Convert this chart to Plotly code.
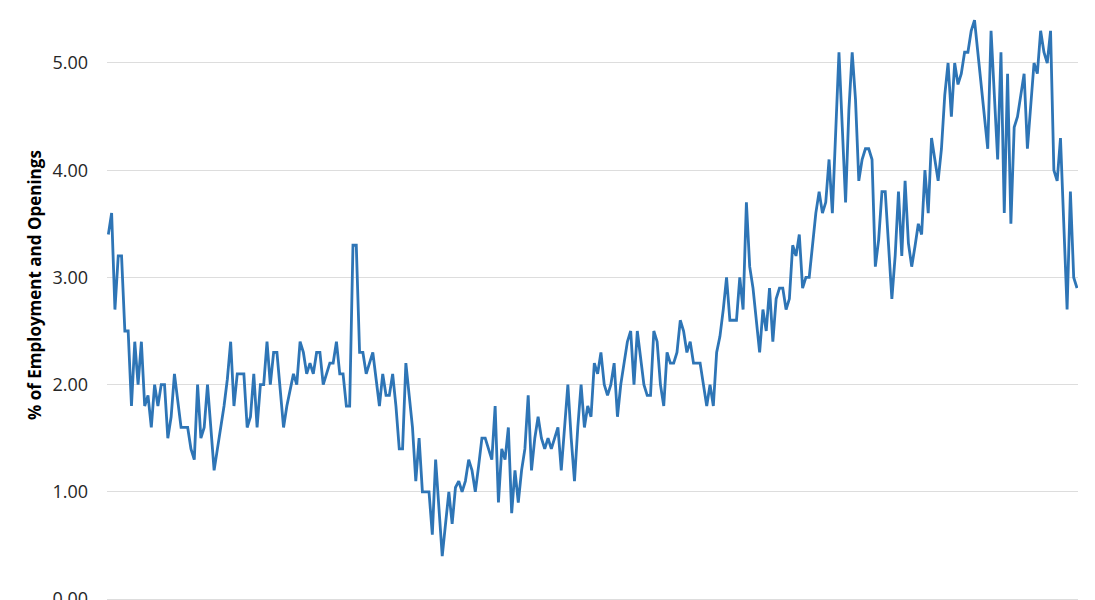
import plotly.graph_objects as go

# Monthly series (% of Employment and Openings)
seg_a = [3.4, 3.6, 2.7, 3.2, 3.2, 2.5, 2.5, 1.8, 2.4, 2.0,
         2.4, 1.8, 1.9, 1.6, 2.0, 1.8, 2.0, 2.0, 1.5, 1.7,
         2.1, 1.85, 1.6, 1.6, 1.6, 1.4, 1.3, 2.0, 1.5, 1.6,
         2.0, 1.6, 1.2, 1.4, 1.6, 1.8, 2.05, 2.4]
seg_b = [1.8, 2.1, 2.1, 2.1, 1.6, 1.7, 2.1, 1.6, 2.0, 2.0,
         2.4, 2.0, 2.3, 2.3, 1.95, 1.6, 1.8, 1.95, 2.1, 2.0,
         2.4, 2.3, 2.1, 2.2, 2.1, 2.3, 2.3, 2.0, 2.1, 2.2,
         2.2, 2.4, 2.1, 2.1, 1.8, 1.8, 3.3, 3.3]
seg_c = [2.3, 2.3, 2.1, 2.2, 2.3, 2.05, 1.8, 2.1, 1.9, 1.9,
         2.1, 1.8, 1.4, 1.4, 2.2, 1.9, 1.6, 1.1, 1.5, 1.0,
         1.0, 1.0, 0.6, 1.3, 0.85, 0.4, 0.7, 1.0, 0.7, 1.04,
         1.1, 1.0, 1.1, 1.3, 1.2]
seg_d = [1.0, 1.24, 1.5, 1.5, 1.4, 1.3, 1.8, 0.9, 1.4, 1.3,
         1.6, 0.8, 1.2, 0.9, 1.2, 1.4, 1.9, 1.2, 1.5, 1.7,
         1.5, 1.4, 1.5, 1.4, 1.5, 1.6, 1.2, 1.6, 2.0, 1.5,
         1.1, 1.6, 2.0, 1.6, 1.8, 1.7, 2.2, 2.1, 2.3]
seg_e = [2.0, 1.9, 2.0, 2.2, 1.7, 2.0, 2.2, 2.4, 2.5, 2.0,
         2.5, 2.27, 2.0, 1.9, 1.9, 2.5, 2.4, 2.0, 1.8, 2.3,
         2.2, 2.2, 2.3, 2.6, 2.5, 2.3, 2.4, 2.2, 2.2, 2.2,
         2.0, 1.8, 2.0, 1.8, 2.3, 2.45, 2.7, 3.0]
seg_f = [2.6, 2.6, 2.6, 3.0, 2.7, 3.7, 3.1, 2.9, 2.6, 2.3,
         2.7, 2.5, 2.9, 2.4, 2.8, 2.9, 2.9, 2.7, 2.8, 3.3,
         3.2, 3.4, 2.9, 3.0, 3.0, 3.3, 3.6, 3.8, 3.6, 3.7,
         4.1, 3.6, 4.35, 5.1, 4.4, 3.7]
seg_g = [4.56, 5.1, 4.66, 3.9, 4.1, 4.2, 4.2, 4.1, 3.1, 3.35,
         3.8, 3.8, 3.3, 2.8, 3.2, 3.8, 3.2, 3.9, 3.32, 3.1,
         3.29, 3.5, 3.4, 4.0, 3.6, 4.3, 4.1, 3.9, 4.2, 4.7,
         5.0, 4.5, 5.0, 4.8, 4.9, 5.1, 5.1, 5.3, 5.4]
seg_h = [5.1, 4.8, 4.5, 4.2, 5.3, 4.7, 4.1, 5.1, 3.6, 4.9,
         3.5, 4.4, 4.5, 4.7, 4.9, 4.2, 4.6, 5.0, 4.9, 5.3,
         5.1, 5.0, 5.3, 4.0, 3.9, 4.3, 3.5, 2.7, 3.8, 3.0,
         2.9]

values = seg_a + seg_b + seg_c + seg_d + seg_e + seg_f + seg_g + seg_h
months = list(range(len(values)))

y_ticks = [0, 1, 2, 3, 4, 5]
y_tick_labels = ["0.00", "1.00", "2.00", "3.00", "4.00", "5.00"]
y_title = "% of Employment and Openings"

fig = go.Figure()
fig.add_trace(go.Scatter(
    x=months, y=values, mode="lines",
    line=dict(color="#2E75B6", width=2.8),
    hoverinfo="skip", showlegend=False,
))

n = len(values)
# The page body keeps its default 8px margin; the figure runs a little past
# the bottom of the window so the 0.00 row is cut like in the reference.
fig.update_layout(
    width=1087, height=600,
    margin=dict(l=99, r=17, t=0, b=0, autoexpand=False),
    paper_bgcolor="white", plot_bgcolor="white",
    font=dict(family="Open Sans, Liberation Sans, sans-serif", color="#262626"),
    xaxis=dict(range=[-0.4, n - 1 + 0.3], showgrid=False, zeroline=False,
               showticklabels=False, showline=False, ticks="", automargin=False),
    yaxis=dict(range=[-0.084, 5.513], tickvals=y_ticks, ticktext=y_tick_labels,
               showgrid=True, gridcolor="#DDDDDD", gridwidth=1,
               zeroline=False, showline=False, ticks="", automargin=False,
               tickfont=dict(size=18, color="#262626"),
               ticklabelstandoff=18, ticklabeloverflow="allow"),
    annotations=[dict(
        text="<b>" + y_title + "</b>", textangle=-90,
        xref="paper", yref="paper", x=0, y=1 - 277 / 600,
        xanchor="center", yanchor="middle", xshift=-73,
        showarrow=False, font=dict(size=17, color="#000000"),
    )],
)

fig.write_html("out.html")
